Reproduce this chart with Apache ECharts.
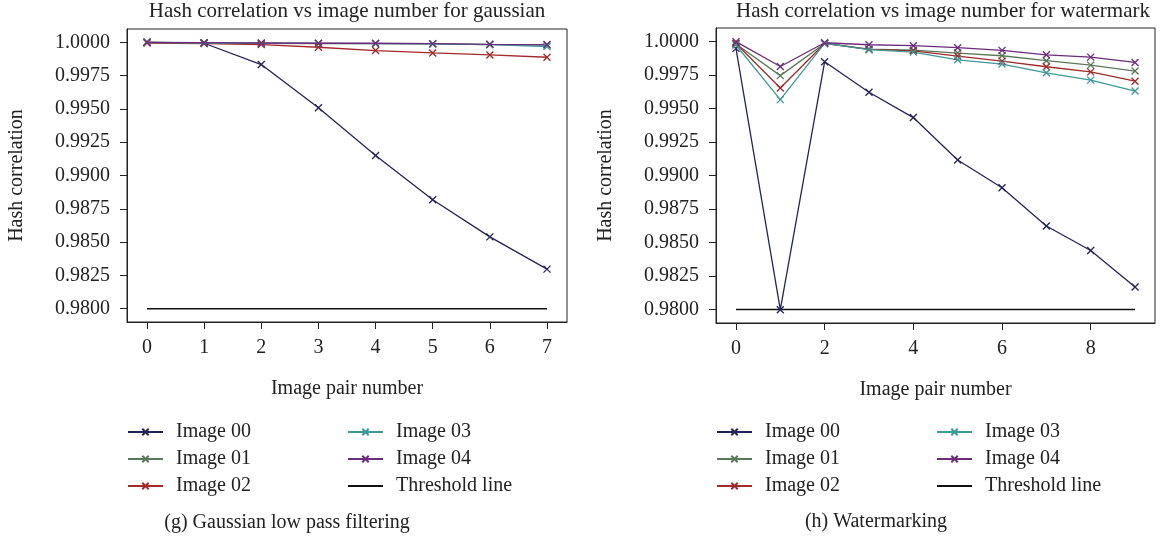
<!DOCTYPE html>
<html>
<head>
<meta charset="utf-8">
<script src="https://cdn.jsdelivr.net/npm/echarts@6/dist/echarts.min.js"></script>
<style>
  html, body { margin: 0; padding: 0; background: #fff; }
  #chart { width: 1169px; height: 541px; }
</style>
</head>
<body>
<div id="chart"></div>
<script>
// Image pair numbers
const gaussPairs = [0, 1, 2, 3, 4, 5, 6, 7];
const waterPairs = [0, 1, 2, 3, 4, 5, 6, 7, 8, 9];

// Hash correlation, Gaussian low pass filtering
const gauss00 = [1.0000, 0.99993, 0.99833, 0.99509, 0.99150, 0.98818, 0.98539, 0.98297];
const gauss01 = [1.0000, 0.99996, 0.99993, 0.99991, 0.99990, 0.99988, 0.99983, 0.99980];
const gauss02 = [0.99995, 0.99990, 0.99983, 0.99963, 0.99938, 0.99920, 0.99905, 0.99888];
const gauss03 = [1.0000, 0.99995, 0.99993, 0.99992, 0.99990, 0.99988, 0.99982, 0.99968];
const gauss04 = [1.0000, 0.99997, 0.99995, 0.99993, 0.99993, 0.99990, 0.99985, 0.99983];

// Hash correlation, watermarking
const water00 = [0.99948, 0.97999, 0.99848, 0.99621, 0.99432, 0.99116, 0.98909, 0.98623, 0.98441, 0.98169];
const water01 = [0.99980, 0.99745, 0.99985, 0.99943, 0.99935, 0.99913, 0.99893, 0.99856, 0.99823, 0.99779];
const water02 = [0.99985, 0.99652, 0.99985, 0.99940, 0.99930, 0.99890, 0.99853, 0.99811, 0.99773, 0.99703];
const water03 = [0.99973, 0.99566, 0.99985, 0.99938, 0.99920, 0.99863, 0.99831, 0.99766, 0.99711, 0.99630];
const water04 = [0.99998, 0.99813, 0.99990, 0.99975, 0.99968, 0.99953, 0.99933, 0.99900, 0.99883, 0.99843];

const thresholdValue = 0.98;

// Tick labels
const yTicks = [0.98, 0.9825, 0.985, 0.9875, 0.99, 0.9925, 0.995, 0.9975, 1.0];
const gaussTicksX = [0, 1, 2, 3, 4, 5, 6, 7];
const waterTicksX = [0, 2, 4, 6, 8];

const seriesNames = ['Image 00', 'Image 01', 'Image 02', 'Image 03', 'Image 04'];
const thresholdName = 'Threshold line';

const colors = ['#24235c', '#587a58', '#a22a28', '#3a9999', '#6c2c7c'];
const FONT = '"Liberation Serif", "DejaVu Serif", serif';
const FS = 20;
const CROSS = 'path://M0,0L10,10M10,0L0,10';

function pairs(xs, ys) { return xs.map((x, i) => [x, ys[i]]); }

function lineSeries(name, xs, ys, idx, color) {
  return {
    name: name,
    type: 'line',
    xAxisIndex: idx,
    yAxisIndex: idx,
    data: pairs(xs, ys),
    symbol: CROSS,
    symbolSize: 7,
    showSymbol: true,
    lineStyle: { color: color, width: 1.3 },
    itemStyle: { color: color, borderColor: color, borderWidth: 1.3 },
    emphasis: { disabled: true },
    animation: false
  };
}

function thresholdSeries(xs, idx) {
  return {
    name: thresholdName,
    type: 'line',
    xAxisIndex: idx,
    yAxisIndex: idx,
    data: xs.map(x => [x, thresholdValue]),
    symbol: 'none',
    lineStyle: { color: '#111', width: 1.5 },
    itemStyle: { color: '#111' },
    emphasis: { disabled: true },
    animation: false
  };
}

function xAxis(idx, min, max, ticks) {
  return {
    type: 'value',
    gridIndex: idx,
    min: min,
    max: max,
    name: 'Image pair number',
    nameLocation: 'middle',
    nameGap: 57,
    nameTextStyle: { fontFamily: FONT, fontSize: FS, color: '#222' },
    axisLine: { show: true, onZero: false, lineStyle: { color: '#222', width: 1 } },
    axisTick: { show: true, length: 7, customValues: ticks, lineStyle: { color: '#222' } },
    axisLabel: { customValues: ticks, fontFamily: FONT, fontSize: FS, color: '#222', margin: 16 },
    splitLine: { show: false }
  };
}

function yAxis(idx) {
  return {
    type: 'value',
    gridIndex: idx,
    min: 0.979,
    max: 1.001,
    name: 'Hash correlation',
    nameLocation: 'middle',
    nameGap: 100,
    nameTextStyle: { fontFamily: FONT, fontSize: FS, color: '#222' },
    axisLine: { show: true, onZero: false, lineStyle: { color: '#222', width: 1 } },
    axisTick: { show: true, length: 7, customValues: yTicks, lineStyle: { color: '#222' } },
    axisLabel: {
      customValues: yTicks,
      fontFamily: FONT, fontSize: FS, color: '#222', margin: 17,
      formatter: v => v.toFixed(4)
    },
    splitLine: { show: false }
  };
}

function legend(left, top, names) {
  return {
    orient: 'vertical',
    left: left,
    top: top,
    padding: 0,
    itemWidth: 35,
    itemHeight: 8,
    itemGap: 7,
    selectedMode: false,
    data: names.map(n => n === thresholdName
      ? { name: n, itemStyle: { opacity: 0 } }
      : { name: n }),
    textStyle: { fontFamily: FONT, fontSize: FS, color: '#222', lineHeight: 20, padding: [0, 0, 0, 8] }
  };
}

function text(x, y, str, size) {
  return {
    type: 'text', x: x, y: y,
    style: {
      text: str, fontFamily: FONT, fontSize: size || FS, fill: '#222',
      textAlign: 'center', textVerticalAlign: 'middle'
    }
  };
}

const gaussSets = [gauss00, gauss01, gauss02, gauss03, gauss04];
const waterSets = [water00, water01, water02, water03, water04];

const series = [];
gaussSets.forEach((ys, i) => series.push(lineSeries(seriesNames[i], gaussPairs, ys, 0, colors[i])));
series.push(thresholdSeries(gaussPairs, 0));
waterSets.forEach((ys, i) => series.push(lineSeries(seriesNames[i], waterPairs, ys, 1, colors[i])));
series.push(thresholdSeries(waterPairs, 1));

const chart = echarts.init(document.getElementById('chart'), null, { renderer: 'canvas' });
chart.setOption({
  animation: false,
  backgroundColor: '#fff',
  grid: [
    { left: 127, top: 29, width: 440, height: 293, show: true, borderColor: '#222', borderWidth: 1, backgroundColor: 'transparent' },
    { left: 716, top: 28, width: 439, height: 295, show: true, borderColor: '#222', borderWidth: 1, backgroundColor: 'transparent' }
  ],
  xAxis: [xAxis(0, -0.35, 7.35, gaussTicksX), xAxis(1, -0.45, 9.45, waterTicksX)],
  yAxis: [yAxis(0), yAxis(1)],
  legend: [
    legend(127, 422, seriesNames.slice(0, 3)),
    legend(347, 422, [seriesNames[3], seriesNames[4], thresholdName]),
    legend(716, 422, seriesNames.slice(0, 3)),
    legend(936, 422, [seriesNames[3], seriesNames[4], thresholdName])
  ],
  graphic: [
    text(347, 11, 'Hash correlation vs image number for gaussian', 21),
    text(943, 11, 'Hash correlation vs image number for watermark', 21),
    text(287, 523, '(g) Gaussian low pass filtering'),
    text(876, 522, '(h) Watermarking')
  ],
  series: series
});
</script>
</body>
</html>
